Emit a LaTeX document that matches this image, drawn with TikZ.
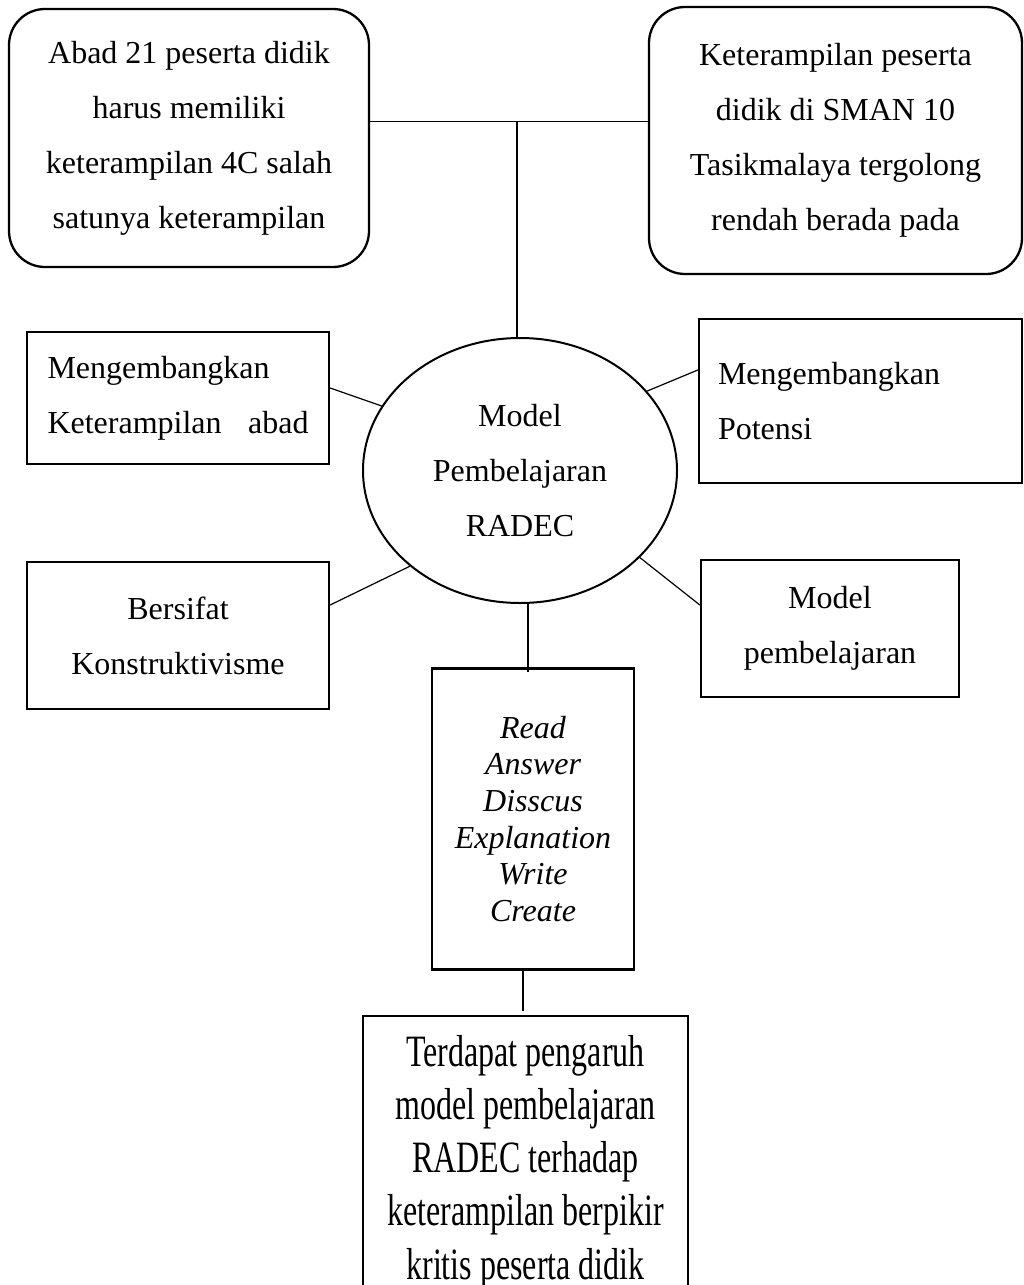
\documentclass[tikz,border=0pt]{standalone}
\usepackage{fontspec}
\usepackage{graphicx}
\setmainfont{Liberation Serif}
\usetikzlibrary{shapes.geometric}
\begin{document}
\begin{tikzpicture}[x=1pt,y=-1pt,
  txt/.style={font=\fontsize{32}{55}\selectfont, inner sep=0pt},
  rbox/.style={txt, draw, line width=2.3pt, rounded corners=36pt, align=center},
  sbox/.style={txt, draw, line width=2.3pt, rectangle},
  link/.style={line width=1.2pt},
]
\clip (0,0) rectangle (1024,1285);
\fill[white] (0,0) rectangle (1024,1285);

\node[rbox, minimum width=360pt, minimum height=258pt] (tl) at (189,138)
  {Abad 21 peserta didik\\harus memiliki\\keterampilan 4C salah\\satunya keterampilan};
\node[rbox, minimum width=373pt, minimum height=267pt] (tr) at (835.5,140.5)
  {Keterampilan peserta\\didik di SMAN 10\\Tasikmalaya tergolong\\rendah berada pada};

\node[txt, draw, ellipse, line width=2pt, minimum width=314pt, minimum height=265pt, align=center] (ell) at (520,470.5)
  {Model\\Pembelajaran\\RADEC};

\node[sbox, minimum width=302pt, minimum height=132pt, text width=261pt, align=left] (lb1) at (178,398)
  {Mengembangkan\\\hbox to 261pt{Keterampilan\hfil abad}};
\node[sbox, minimum width=323pt, minimum height=164pt, text width=285pt, align=left] (rb1) at (860.5,401)
  {Mengembangkan\\Potensi};
\node[sbox, minimum width=302pt, minimum height=147pt, align=center] (lb2) at (178,635.5)
  {Bersifat\\Konstruktivisme};
\node[sbox, minimum width=258pt, minimum height=137pt, align=center] (rb2) at (830,628.5)
  {Model\\pembelajaran};
\node[sbox, minimum width=202pt, minimum height=301pt, align=center,
      font=\fontsize{32}{36.7}\selectfont\itshape] (lst) at (533,819)
  {Read\\Answer\\Disscus\\Explanation\\Write\\Create};
\node[sbox, minimum width=325pt, minimum height=292pt, anchor=north] (res) at (525.5,1015)
  {\scalebox{1}[1.4]{\parbox{320pt}{\centering\fontsize{32}{37.9}\selectfont
   Terdapat pengaruh\\model pembelajaran\\RADEC terhadap\\keterampilan berpikir\\kritis peserta didik}}};

\coordinate (j) at (517,121.5);
\draw[link] (tl.east |- j) -- (tr.west |- j);
\draw[link] (j) -- (ell.north -| j);
\draw[link] ([yshift=10pt]lb1.east) -- (ell.155);
\draw[link] ([yshift=31pt]rb1.west) -- (ell.32);
\draw[link] ([yshift=30.5pt]lb2.east) -- (ell.221);
\draw[link] ([yshift=23.5pt]rb2.west) -- (ell.324);
\draw[link] ([xshift=8pt]ell.south) -- ([xshift=-5pt,yshift=-5pt]lst.north);
\draw[link, shorten >=4pt] ([xshift=-10pt]lst.south) -- ([xshift=-2.5pt]res.north);
\end{tikzpicture}
\end{document}
